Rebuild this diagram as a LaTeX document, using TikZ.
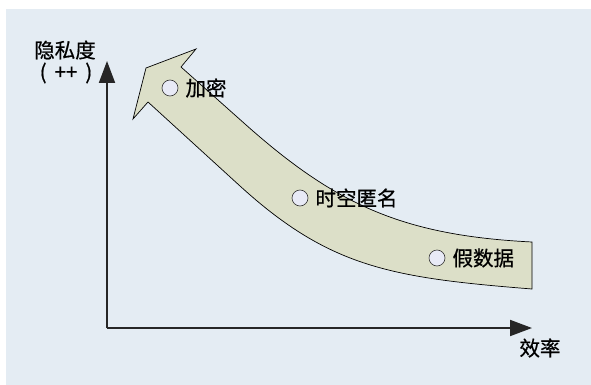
\documentclass[tikz,border=0pt]{standalone}
\usepackage{fontspec}
\setmainfont{Noto Sans CJK SC}[RawFeature={embolden=0.6}]
\usetikzlibrary{arrows.meta}
\definecolor{bgblue}{RGB}{228,236,243}
\definecolor{bandfill}{RGB}{220,223,200}
\definecolor{dotfill}{RGB}{232,234,246}
\tikzset{
  axis/.style={line width=1.9pt, black!85, -{Triangle[length=22pt,width=16pt]}},
  band/.style={fill=bandfill, draw=black, line width=0.7pt, line join=miter},
  dot/.style={circle, draw=black!80, fill=dotfill, line width=0.6pt, minimum size=16pt, inner sep=0pt},
  lbl/.style={inner sep=0pt, font=\fontsize{20.5}{20.5}\selectfont},
}
\begin{document}
\begin{tikzpicture}[x=1pt,y=-1pt]
\useasboundingbox (0,0) rectangle (591,385);
\fill[bgblue] (6,9) rectangle (591,385);
% curved band arrow
\draw[band] (148,102) -- (133,119) -- (146,68) -- (196,49) -- (181,67)
  -- (245,124) .. controls (335,204.1) and (402,235.5) .. (532,242)
  -- (532,289) .. controls (392,277.8) and (330,267.9) .. (240,186)
  -- cycle;
% axes
\coordinate (o) at (107,328);
\coordinate (ytip) at (107,61);
\coordinate (xtip) at (532,328);
\draw[axis] (o) -- (ytip);
\draw[axis] (o) -- (xtip);
\node[lbl] (ylab) at (65,50) {隐私度};
\node[lbl] (ylab2) at (66,73) {(\hspace{8pt}++\hspace{8pt})};
\node[lbl] (xlab) at (540,348) {效率};
% items
\node[dot] (d1) at (170,88) {};
\node[lbl, anchor=west] (t1) at ([xshift=7pt]d1.east) {加密};
\node[dot] (d2) at (300,198) {};
\node[lbl, anchor=west] (t2) at ([xshift=7pt]d2.east) {时空匿名};
\node[dot] (d3) at (437,258) {};
\node[lbl, anchor=west] (t3) at ([xshift=7pt]d3.east) {假数据};
\end{tikzpicture}
\end{document}
